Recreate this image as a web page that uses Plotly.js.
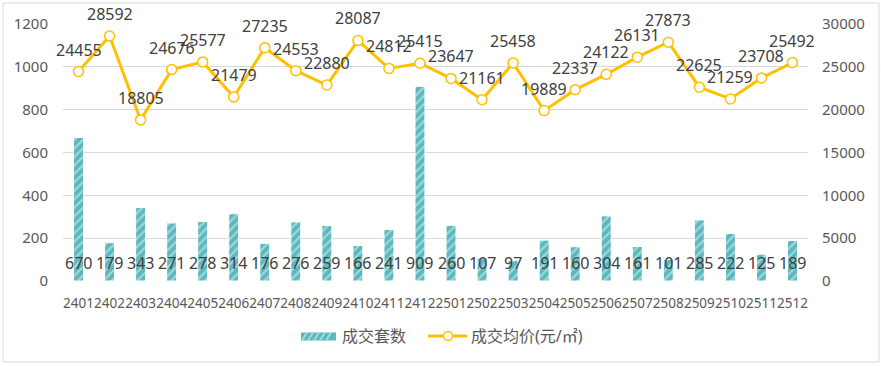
<!DOCTYPE html>
<html>
<head>
<meta charset="utf-8">
<script src="https://cdn.plot.ly/plotly-3.0.1.min.js"></script>
<style>
  html, body { margin: 0; padding: 0; background: #ffffff; }
  #chart { width: 881px; height: 367px; }
</style>
</head>
<body>
<div id="chart"></div>
<script>
const months = ["2401","2402","2403","2404","2405","2406","2407","2408","2409","2410","2411","2412",
                "2501","2502","2503","2504","2505","2506","2507","2508","2509","2510","2511","2512"];
const deals = [670,179,343,271,278,314,176,276,259,166,241,909,260,107,97,191,160,304,161,101,285,222,125,189];
const prices = [24455,28592,18805,24676,25577,21479,27235,24553,22880,28087,24812,25415,
                23647,21161,25458,19889,22337,24122,26131,27873,22625,21259,23708,25492];
const leftTicks = [0,200,400,600,800,1000,1200];
const rightTicks = [0,5000,10000,15000,20000,25000,30000];
const seriesNames = ['成交套数', '成交均价(元/㎡)'];

const FONT = "Noto Sans, Noto Sans CJK SC, sans-serif";
const BAR_COLOR = '#5bb8be', STRIPE = '#a3d9dc', LINE_COLOR = '#ffc000';

const W = 881, H = 367, M = { l: 63, r: 73, t: 24, b: 86 };
const PW = W - M.l - M.r, PH = H - M.t - M.b;
const px = X => (X - M.l) / PW;          // pixel -> paper x
const py = Y => (H - M.b - Y) / PH;      // pixel -> paper y

const barTrace = {
  type: 'bar', name: seriesNames[0], x: months, y: deals, width: 0.32,
  marker: {
    color: BAR_COLOR,
    line: { color: '#ffffff', width: 1 },
    pattern: { shape: '/', bgcolor: BAR_COLOR, fgcolor: STRIPE, size: 6, solidity: 0.35, fillmode: 'replace' }
  }
};

const lineTrace = {
  type: 'scatter', mode: 'lines+markers', name: seriesNames[1], x: months, y: prices, yaxis: 'y2',
  line: { color: LINE_COLOR, width: 3 },
  marker: { symbol: 'circle', size: 10, color: '#ffffff', line: { color: LINE_COLOR, width: 1.5 } }
};

const annotations = [];
months.forEach((m, i) => {
  annotations.push({
    x: i, y: 0, xref: 'x', yref: 'y', text: String(deals[i]), showarrow: false,
    yshift: 18, font: { family: FONT, size: 16, color: '#404040' }
  });
  annotations.push({
    x: i, y: prices[i], xref: 'x', yref: 'y2', text: String(prices[i]), showarrow: false,
    yshift: 22, font: { family: FONT, size: 16, color: '#404040' }
  });
});

// custom legend (swatches + texts)
const LEG_Y = 336;
annotations.push({ xref: 'paper', yref: 'paper', x: px(340), y: py(LEG_Y), xanchor: 'left', yanchor: 'middle',
  text: seriesNames[0], showarrow: false, font: { family: FONT, size: 16, color: '#595959' } });
annotations.push({ xref: 'paper', yref: 'paper', x: px(469), y: py(LEG_Y), xanchor: 'left', yanchor: 'middle',
  text: seriesNames[1], showarrow: false, font: { family: FONT, size: 16, color: '#595959' } });

const shapes = [{
  type: 'rect', xref: 'paper', yref: 'paper',
  x0: px(3), x1: px(879), y0: py(362), y1: py(3),
  line: { color: '#d9d9d9', width: 1 }, fillcolor: 'rgba(0,0,0,0)', layer: 'below'
}, {
  type: 'rect', xref: 'paper', yref: 'paper',
  x0: px(301), x1: px(336), y0: py(340.5), y1: py(332.5),
  line: { width: 0 }, fillcolor: BAR_COLOR
}];
for (let X = 301; X <= 330; X += 6) {
  shapes.push({ type: 'line', xref: 'paper', yref: 'paper',
    x0: px(X + 1), y0: py(340.5), x1: px(X + 6), y1: py(332.5),
    line: { color: STRIPE, width: 2 } });
}
shapes.push({ type: 'line', xref: 'paper', yref: 'paper',
  x0: px(428), x1: px(467), y0: py(LEG_Y), y1: py(LEG_Y), line: { color: LINE_COLOR, width: 3 } });
shapes.push({ type: 'circle', xref: 'paper', yref: 'paper',
  x0: px(443.5), x1: px(452.5), y0: py(LEG_Y + 4.5), y1: py(LEG_Y - 4.5),
  line: { color: LINE_COLOR, width: 1.5 }, fillcolor: '#ffffff' });

const layout = {
  width: W, height: H, margin: M,
  paper_bgcolor: '#ffffff', plot_bgcolor: '#ffffff',
  font: { family: FONT, color: '#595959' },
  showlegend: false,
  xaxis: {
    type: 'category', categoryarray: months, categoryorder: 'array', range: [-0.5, months.length - 0.5],
    tickangle: 0, showgrid: false, showline: false, zeroline: false,
    ticks: '', ticklabelstandoff: 12,
    tickfont: { family: FONT, size: 13.5, color: '#595959' }
  },
  yaxis: {
    range: [0, 1200], tickvals: leftTicks, ticktext: leftTicks.map(String),
    showgrid: true, gridcolor: '#d9d9d9', gridwidth: 1,
    zeroline: false, showline: false, ticks: '', ticklabelstandoff: 14,
    tickfont: { family: FONT, size: 15, color: '#595959' }
  },
  yaxis2: {
    range: [0, 30000], tickvals: rightTicks, ticktext: rightTicks.map(String),
    overlaying: 'y', side: 'right', showgrid: false,
    zeroline: false, showline: false, ticks: '', ticklabelstandoff: 13,
    tickfont: { family: FONT, size: 15, color: '#595959' }
  },
  annotations: annotations,
  shapes: shapes
};

Plotly.newPlot('chart', [barTrace, lineTrace], layout, { displayModeBar: false, staticPlot: true });
</script>
</body>
</html>
